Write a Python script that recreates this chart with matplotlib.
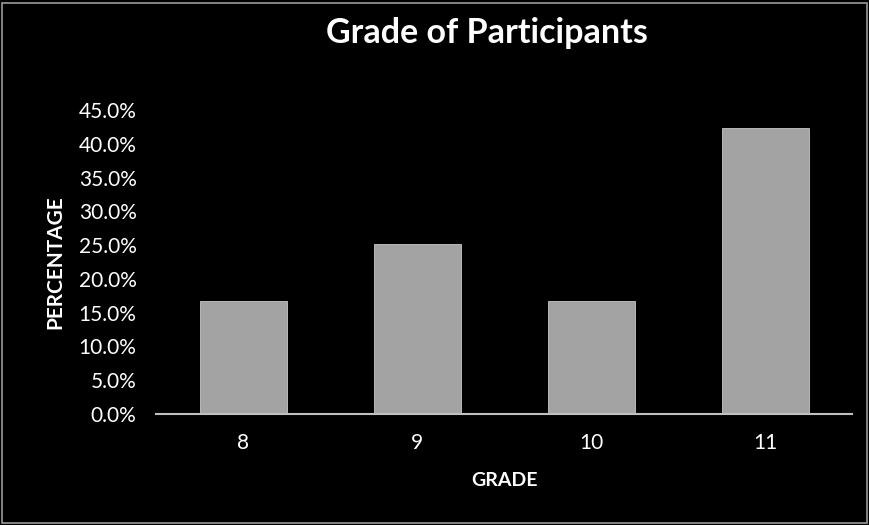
import matplotlib
matplotlib.use("Agg")
import matplotlib.pyplot as plt
from matplotlib.ticker import FuncFormatter
from matplotlib.patches import Rectangle

grades = ["8", "9", "10", "11"]
percentages = [16.7, 25.2, 16.7, 42.4]
y_ticks = [0, 5, 10, 15, 20, 25, 30, 35, 40, 45]

title = "Grade of Participants"
xlabel = "GRADE"
ylabel = "PERCENTAGE"

plt.rcParams['font.family'] = ['Lato', 'DejaVu Sans']

fig = plt.figure(figsize=(8.69, 5.25), dpi=100, facecolor='black')
ax = fig.add_axes([156/869, 1 - 414/525, (852-156)/869, (414-110)/525])
ax.set_facecolor('black')

x = list(range(len(grades)))
ax.bar(x, percentages, width=0.5, color='#a3a3a3', edgecolor='#c8c8c8', linewidth=0.6, zorder=2)

ax.set_xlim(-0.5, len(grades) - 0.5)
ax.set_ylim(0, 45)
ax.set_yticks(y_ticks)
ax.yaxis.set_major_formatter(FuncFormatter(lambda v, p: f"{v:.1f}%"))
ax.set_xticks(x)
ax.set_xticklabels(grades)

for s in ['top', 'right', 'left']:
    ax.spines[s].set_visible(False)
ax.spines['bottom'].set_color('#c0c0c0')
ax.spines['bottom'].set_linewidth(1.5)

ax.tick_params(axis='y', length=0, pad=14, colors='white', labelsize=15)
ax.tick_params(axis='x', length=0, pad=14, colors='white', labelsize=15)

ax.set_ylabel(ylabel, color='white', fontsize=15, fontweight='bold')
ax.yaxis.set_label_coords((55 - 156) / 696, 0.5)
ax.set_xlabel(xlabel, color='white', fontsize=14, fontweight='bold')
ax.xaxis.set_label_coords(0.5, -(480 - 414) / 304)
ax.xaxis.label.set_va('center')
ax.yaxis.label.set_va('center')

fig.text(487/869, 1 - 33/525, title, color='white', fontsize=24.5, fontweight='bold',
         ha='center', va='center')

# scanned light border
fig.patches.append(Rectangle((0.002, 0.004), 0.996, 0.99, transform=fig.transFigure,
                             fill=False, edgecolor='#9a9a9a', linewidth=1.2))

fig.savefig('out.png', dpi=100, facecolor='black')
